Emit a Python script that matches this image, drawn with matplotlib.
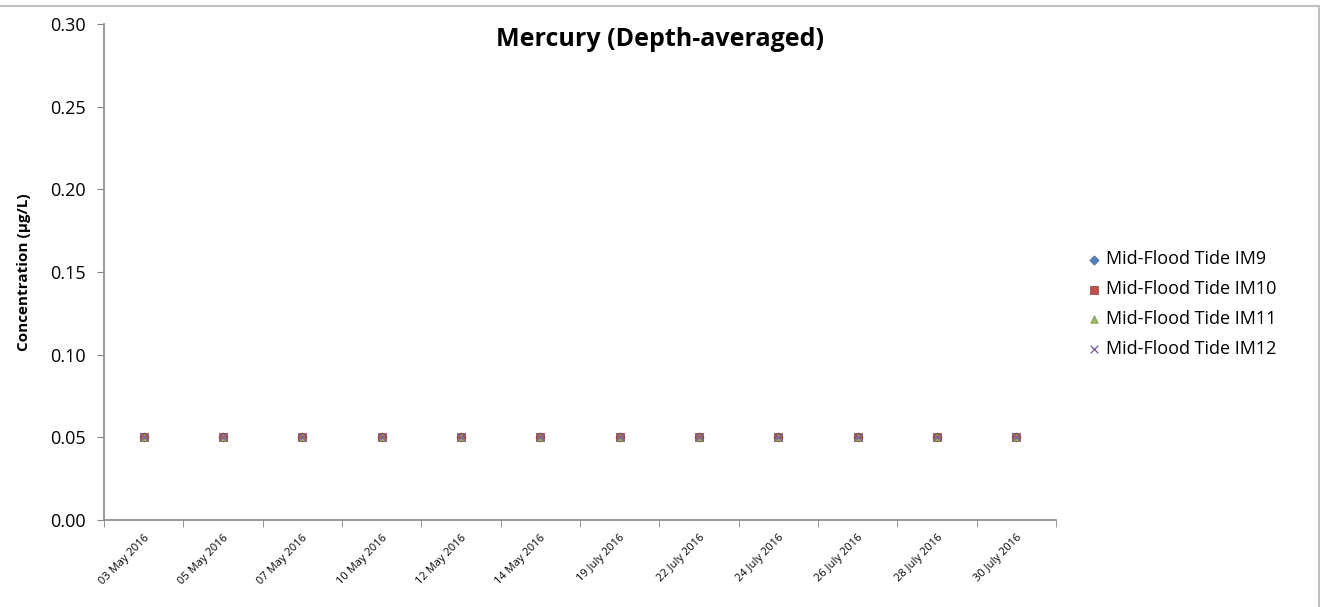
import matplotlib.pyplot as plt
from matplotlib.patches import Rectangle

plt.rcParams['font.family'] = ['Open Sans', 'DejaVu Sans']

# sampling dates (categories)
dates = ['03 May 2016', '05 May 2016', '07 May 2016', '10 May 2016',
         '12 May 2016', '14 May 2016', '19 July 2016', '22 July 2016',
         '24 July 2016', '26 July 2016', '28 July 2016', '30 July 2016']

# depth-averaged mercury, ug/L
im9 = [0.05] * 12
im10 = [0.05] * 12
im11 = [0.05] * 12
im12 = [0.05] * 12

series_names = ['Mid-Flood Tide IM9', 'Mid-Flood Tide IM10',
                'Mid-Flood Tide IM11', 'Mid-Flood Tide IM12']

fig = plt.figure(figsize=(13.2, 6.07), dpi=100)
ax = fig.add_axes([0.0788, 0.1433, 0.7212, 0.8172])

x = list(range(len(dates)))
ax.scatter(x, im9, marker='D', s=22, color='#4F81BD', edgecolor='#3A6494', linewidth=0.5, label=series_names[0], zorder=3)
ax.scatter(x, im10, marker='s', s=30, color='#C0504D', edgecolor='#8C3836', linewidth=0.5, label=series_names[1], zorder=4)
ax.scatter(x, im11, marker='^', s=28, color='#9BBB59', edgecolor='#71893F', linewidth=0.5, label=series_names[2], zorder=5)
ax.scatter(x, im12, marker='x', s=30, color='#8064A2', linewidth=1.0, label=series_names[3], zorder=6)

ax.set_xlim(-0.5, len(dates) - 0.5)
ax.set_ylim(0, 0.30)
ax.set_yticks([0, 0.05, 0.10, 0.15, 0.20, 0.25, 0.30])
ax.set_yticklabels(['%.2f' % v for v in ax.get_yticks()], fontsize=13)

ax.set_xticks(x)
ax.set_xticklabels(dates, rotation=45, ha='right', va='top', fontsize=8,
                   rotation_mode='anchor')
ax.set_xticks([i - 0.5 for i in range(len(dates) + 1)], minor=True)
ax.tick_params(axis='x', which='major', length=0, pad=9)
ax.tick_params(axis='x', which='minor', length=5, color='#868686', direction='out')
ax.tick_params(axis='y', length=5, color='#868686', direction='out', pad=8)

for side in ['top', 'right']:
    ax.spines[side].set_visible(False)
for side in ['left', 'bottom']:
    ax.spines[side].set_color('#868686')
    ax.spines[side].set_linewidth(1.2)

ax.set_ylabel('Concentration (µg/L)', fontsize=11, fontweight='bold', labelpad=14)
fig.text(0.5, 0.935, 'Mercury (Depth-averaged)', ha='center', va='center',
         fontsize=18, fontweight='bold')

leg = ax.legend(loc='center left', bbox_to_anchor=(1.011, 0.435), frameon=False,
                fontsize=13, handletextpad=0.1, labelspacing=0.66, handlelength=1.2)

# outer chart border (top and right edges visible)
fig.patches.append(Rectangle((-0.01, -0.01), 0.9995 + 0.01, 0.99 + 0.01,
                             transform=fig.transFigure, fill=False,
                             edgecolor='#BFBFBF', linewidth=1.5))

fig.savefig('out.png', dpi=100)
